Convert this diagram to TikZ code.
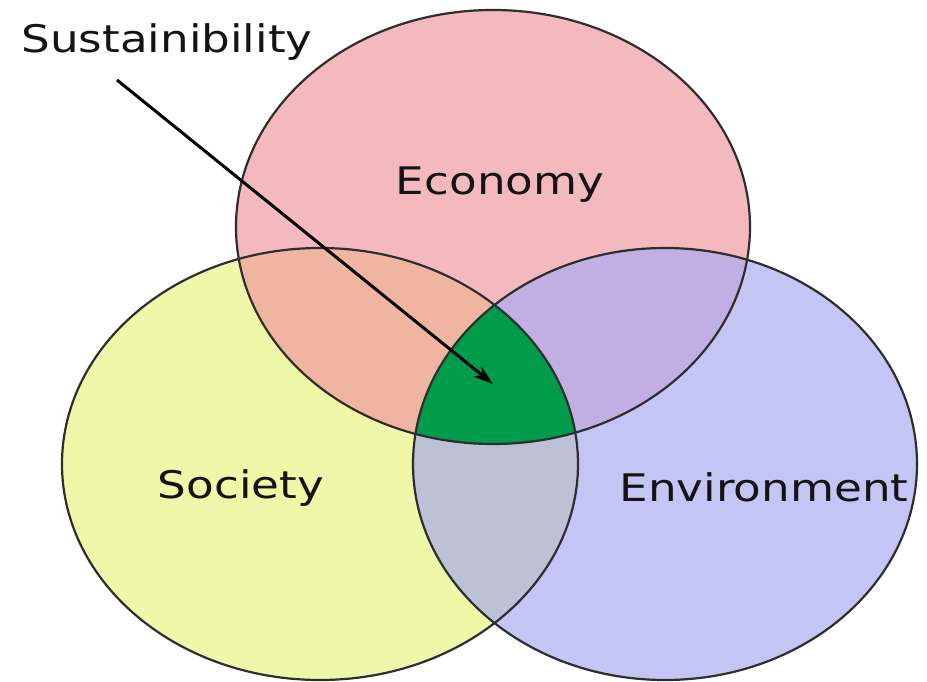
\documentclass[tikz,border=0pt]{standalone}
\usepackage{fontspec}
\setmainfont{DejaVu Sans}
\usetikzlibrary{arrows.meta}

\definecolor{econcol}{HTML}{F4B9BE}
\definecolor{soccol}{HTML}{EFF7A8}
\definecolor{envcol}{HTML}{C3C5F5}
\definecolor{econsoc}{HTML}{F0B5A0}
\definecolor{econenv}{HTML}{C1AEE2}
\definecolor{socenv}{HTML}{BCC1D5}
\definecolor{susgreen}{HTML}{009B4B}
\definecolor{rimcol}{HTML}{2E2E2E}

\def\econ{(493,227) ellipse [x radius=257pt, y radius=217pt]}
\def\soc{(320,464) ellipse [x radius=258pt, y radius=216pt]}
\def\env{(665,464) ellipse [x radius=252pt, y radius=216pt]}

\begin{document}
\begin{tikzpicture}[x=1pt,y=-1pt,
	rim/.style={draw=rimcol, line width=2.2pt},
	word/.style={font=\fontsize{38}{40}\selectfont, xscale=1.19, anchor=base, text=black!92, inner sep=0pt}]
		\useasboundingbox[fill=white] (0,0) rectangle (927,682);
		% the three fields
		\fill[econcol] \econ;
		\fill[soccol] \soc;
		\fill[envcol] \env;
		% overlaps
		\begin{scope}
			\clip \econ;
			\fill[econsoc] \soc;
			\fill[econenv] \env;
		\end{scope}
		\begin{scope}
			\clip \soc;
			\fill[socenv] \env;
			\clip \env;
			\fill[susgreen] \econ;
		\end{scope}
		\draw[rim] \econ;
		\draw[rim] \soc;
		\draw[rim] \env;
		% labels
		\node[word] (sus) at (167,53) {Sustainibility};
		\node[word] (economy) at (500,195) {Economy};
		\node[word] (society) at (241,498) {Society};
		\node[word] (environment) at (764,501) {Environment};
		\coordinate (tail) at (117,80);
		\coordinate (tip) at (493,384);
		\draw[line width=3pt, -{Stealth[length=20pt, width=13pt, inset=6pt]}] (tail) -- (tip);
	\end{tikzpicture}
\end{document}
